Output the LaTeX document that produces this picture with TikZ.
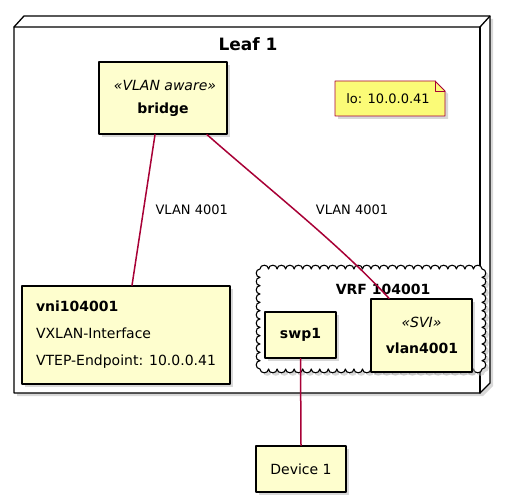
\documentclass[tikz,border=0pt]{standalone}
\usepackage{fontspec}
\setmainfont{DejaVu Sans}
\usepackage{tikz}
\usetikzlibrary{shadows}

\definecolor{umlfill}{HTML}{FEFECE}
\definecolor{umlline}{HTML}{A80036}
\definecolor{notefill}{HTML}{FBFB77}

\tikzset{
  shade box/.style={drop shadow={shadow xshift=3pt, shadow yshift=-3pt, fill=black!30}},
  box/.style={draw=black, line width=1.3pt, fill=umlfill, inner sep=0pt, shade box},
  link/.style={draw=umlline, line width=1.5pt},
  lbl/.style={font=\fontsize{13}{15}\selectfont},
  stereo/.style={font=\fontsize{14}{16}\selectfont\itshape},
  boldtxt/.style={font=\fontsize{14}{16}\selectfont\bfseries},
}

\begin{document}
\begin{tikzpicture}[x=1pt, y=-1pt, line cap=round, line join=round]
    \useasboundingbox (0,0) rectangle (510,502);

    % Leaf 1 (3D node)
    \draw[line width=1.3pt, fill=white, shade box]
      (14,27) -- (24,16) -- (490,16) -- (490,383) -- (480,393) -- (14,393) -- cycle;
    \draw[line width=1.3pt] (14,27) -- (480,27) -- (490,16);
    \draw[line width=1.3pt] (480,27) -- (480,393);
    \node[font=\fontsize{17}{19}\selectfont\bfseries] (leaf) at (248,44) {Leaf 1};

    % Bridge
    \node[box, minimum width=128pt, minimum height=72pt] (bridge) at (163,98) {};
    \node[stereo] at (165,85) {«VLAN aware»};
    \node[boldtxt] at (163,110) {bridge};

    % Note
    \draw[umlline, line width=0.8pt, fill=notefill, shade box]
      (335,81) -- (435,81) -- (445,91) -- (445,116) -- (335,116) -- cycle;
    \draw[umlline, line width=0.8pt] (435,81) -- (435,91) -- (445,91);
    \node[font=\fontsize{13}{15}\selectfont] (note) at (388,99) {lo: 10.0.0.41};

    % VNI
    \node[box, minimum width=208pt, minimum height=98pt, align=left,
      font=\fontsize{14}{27}\selectfont] (vni) at (126,335)
      {\textbf{vni104001}\\VXLAN-Interface\\VTEP-Endpoint: 10.0.0.41};

    % VRF (cloud)
    \draw[line width=1.1pt, fill=white, shade box] (260,269)
      \foreach \i [evaluate=\i as \xa using 260+\i*222/26,
                   evaluate=\i as \xb using 260+(\i+1)*222/26] in {0,...,25}
        { .. controls (\xa,264) and (\xb,264) .. (\xb,269) }
      \foreach \i [evaluate=\i as \ya using 269+\i*100/12,
                   evaluate=\i as \yb using 269+(\i+1)*100/12] in {0,...,11}
        { .. controls (487,\ya) and (487,\yb) .. (482,\yb) }
      \foreach \i [evaluate=\i as \xa using 482-\i*222/26,
                   evaluate=\i as \xb using 482-(\i+1)*222/26] in {0,...,25}
        { .. controls (\xa,374) and (\xb,374) .. (\xb,369) }
      \foreach \i [evaluate=\i as \ya using 369-\i*100/12,
                   evaluate=\i as \yb using 369-(\i+1)*100/12] in {0,...,11}
        { .. controls (255,\ya) and (255,\yb) .. (260,\yb) }
      -- cycle;
    \node[boldtxt] (vrf) at (383,289) {VRF 104001};

    \node[box, minimum width=71pt, minimum height=46pt, boldtxt] (swp) at (300.5,335) {swp1};
    \node[box, minimum width=101pt, minimum height=73pt] (svi) at (421.5,335.5) {};
    \node[stereo] at (421.5,322) {«SVI»};
    \node[boldtxt] at (422,348) {vlan4001};

    % Device
    \node[box, minimum width=90pt, minimum height=46pt,
      font=\fontsize{14}{16}\selectfont] (dev) at (301,469) {Device 1};

    % Links
    \draw[link] ([xshift=-8pt]bridge.south) -- ([xshift=6pt]vni.north)
      node[pos=0.5, right=8pt, lbl, black] {VLAN 4001};
    \draw[link] ([xshift=44pt]bridge.south)
      .. controls (270,190) and (340,245) .. ([xshift=-32.5pt]svi.north);
    \node[lbl] at (352,210) {VLAN 4001};
    \draw[link] (swp.south) -- (dev.north);

\end{tikzpicture}
\end{document}
